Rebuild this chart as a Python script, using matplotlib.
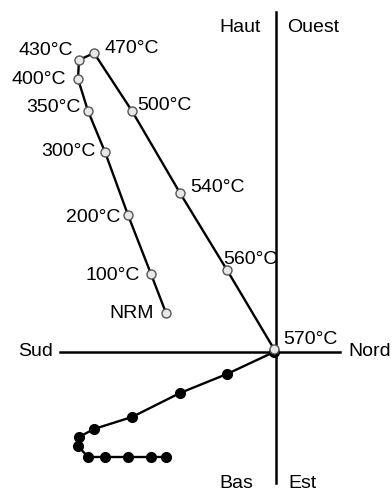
import matplotlib.pyplot as plt

plt.rcParams['font.family'] = ['Liberation Sans', 'DejaVu Sans']

# demagnetisation steps and components (arbitrary units)
steps = ['NRM', '100°C', '200°C', '300°C', '350°C', '400°C', '430°C',
         '470°C', '500°C', '540°C', '560°C', '570°C']
north = [-110, -125, -148, -171, -188, -198, -197, -182, -144, -96, -49, -2]
up = [39, 78, 137, 200, 241, 273, 292, 299, 241, 159, 82, 3]
east = [105, 105, 105, 105, 105, 94, 85, 77, 65, 41, 22, 0]

# label placement: (dx, dy, ha)
label_pos = {
    'NRM': (-12, -1, 'right'), '100°C': (-11, -2, 'right'),
    '200°C': (-8, -2, 'right'), '300°C': (-9, 0, 'right'),
    '350°C': (-7, 3, 'right'), '400°C': (-12, 0, 'right'),
    '430°C': (-6, 10, 'right'), '470°C': (11, 5, 'left'),
    '500°C': (5, 6, 'left'), '540°C': (10, 6, 'left'),
    '560°C': (-4, 11, 'left'), '570°C': (9, 10, 'left'),
}

fig = plt.figure(figsize=(3.92, 4.91), dpi=100)
ax = fig.add_axes([0, 0, 1, 1])
ax.set_xlim(-276, 116)
ax.set_ylim(-139, 352)
ax.axis('off')

# axes cross
ax.plot([0, 0], [-131, 340], color='black', lw=1.8, zorder=1)
ax.plot([-216, 64], [0, 0], color='black', lw=1.8, zorder=1)

# horizontal projection (filled)
ax.plot(north, [-e for e in east], color='black', lw=1.7, marker='o',
        ms=7, mfc='black', mec='black', zorder=3)
# vertical projection (open)
ax.plot(north, up, color='black', lw=1.7, marker='o', ms=6.5,
        mfc='#e8e8e8', mec='#555555', mew=1.0, zorder=4)

for s, x, y in zip(steps, north, up):
    dx, dy, ha = label_pos[s]
    ax.text(x + dx, y + dy, s, ha=ha, va='center', fontsize=14)

ax.text(-15, 325, 'Haut', ha='right', va='center', fontsize=14)
ax.text(11, 325, 'Ouest', ha='left', va='center', fontsize=14)
ax.text(-223, 1, 'Sud', ha='right', va='center', fontsize=14)
ax.text(72, 1, 'Nord', ha='left', va='center', fontsize=14)
ax.text(-23, -131, 'Bas', ha='right', va='center', fontsize=14)
ax.text(12, -131, 'Est', ha='left', va='center', fontsize=14)

fig.savefig('out.png', dpi=100)
